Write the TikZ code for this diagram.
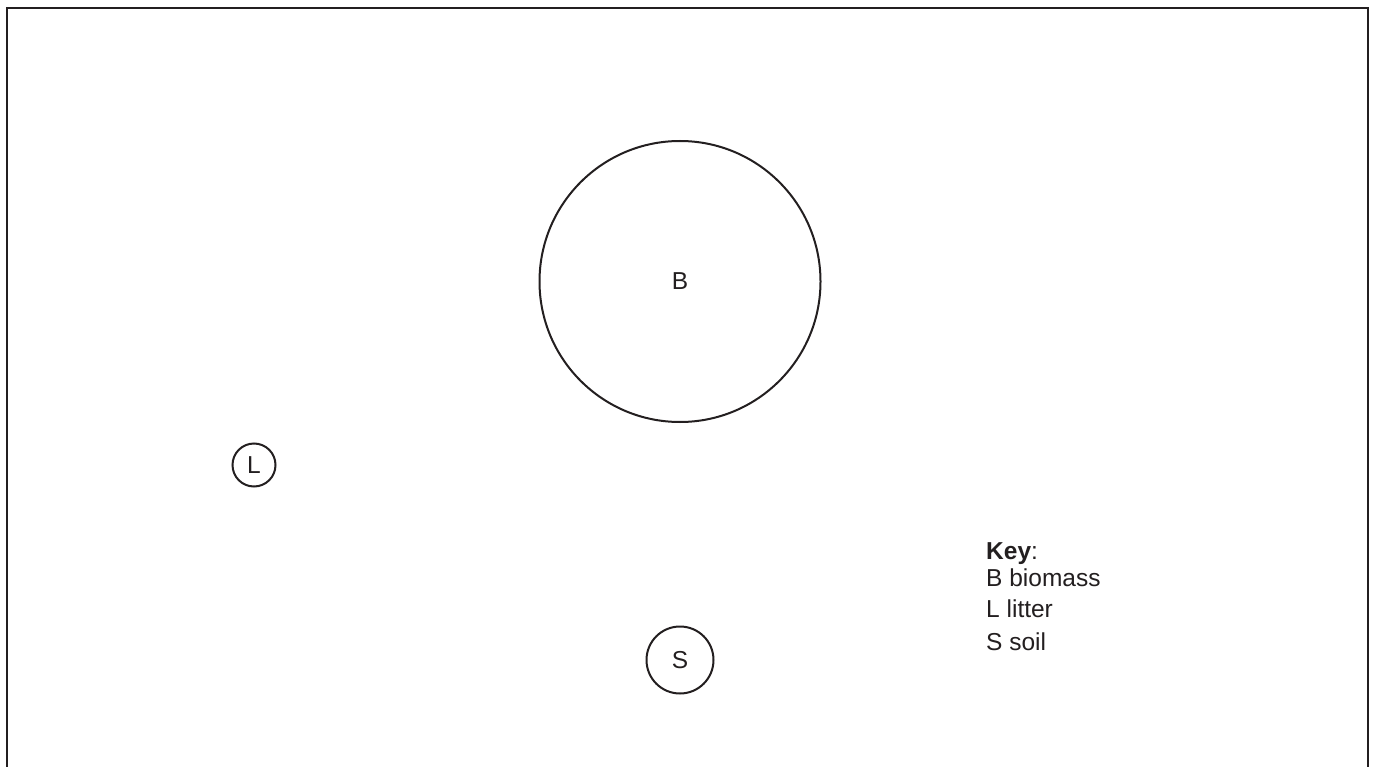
\documentclass[tikz,border=0pt]{standalone}
\usepackage{fontspec}
\setmainfont{Liberation Sans}
\definecolor{ink}{HTML}{231F20}
\begin{document}
\begin{tikzpicture}[x=1pt,y=-1pt,
  frame/.style={draw=ink,line width=2pt},
  pool/.style={circle,draw=ink,line width=2pt,inner sep=0pt,text=ink,font=\fontsize{24.5}{28}\selectfont},
  keytext/.style={anchor=base west,inner sep=0pt,text=ink,font=\fontsize{24.5}{28}\selectfont}]
\useasboundingbox (0,0) rectangle (1375,767);
\draw[frame] (6.5,767) -- (6.5,8.5) -- (1368,8.5) -- (1368,767);
\node[pool,minimum size=281pt] (B) at (680,281.5) {B};
\node[pool,minimum size=43pt] (L) at (254,465) {L};
\node[pool,minimum size=67pt] (S) at (680,660) {S};
\node[keytext] (key) at (986,559.5) {\textbf{Key}:};
\node[keytext] (kb) at (986,586) {B biomass};
\node[keytext] (kl) at (986,617.5) {L litter};
\node[keytext] (ks) at (986,650.5) {S soil};
\end{tikzpicture}
\end{document}
